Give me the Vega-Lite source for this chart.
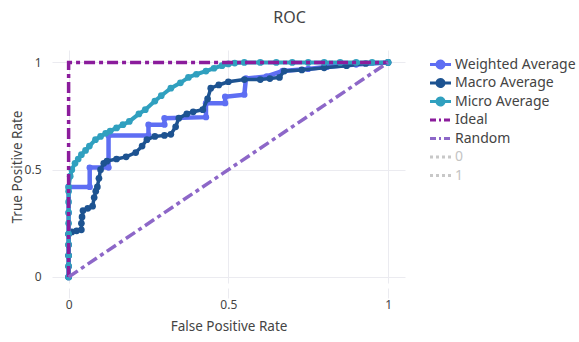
{
  "$schema": "https://vega.github.io/schema/vega-lite/v6.json",
  "width": 353,
  "height": 233,
  "autosize": {"type": "none"},
  "padding": {"left": 52, "top": 50, "right": 174, "bottom": 59},
  "background": "white",
  "title": {"text": "ROC", "fontSize": 16, "font": "Noto Sans", "fontWeight": "normal", "color": "#444", "anchor": "middle", "dx": 61, "offset": 16, "baseline": "middle"},
  "config": {
    "view": {"stroke": null},
    "font": "Noto Sans",
    "axis": {"labelFont": "Noto Sans", "titleFont": "Noto Sans", "labelColor": "#444", "titleColor": "#444", "labelFontSize": 12, "titleFontSize": 13.5, "titleFontWeight": "normal", "gridColor": "#ebebf0", "gridWidth": 1, "domain": false}
  },
  "datasets": {
    "roc": [
      {"series": "Weighted Average", "fpr": 0, "tpr": 0},
      {"series": "Weighted Average", "fpr": 0, "tpr": 0.1},
      {"series": "Weighted Average", "fpr": 0, "tpr": 0.2},
      {"series": "Weighted Average", "fpr": 0, "tpr": 0.3},
      {"series": "Weighted Average", "fpr": 0, "tpr": 0.42},
      {"series": "Weighted Average", "fpr": 0.066, "tpr": 0.42},
      {"series": "Weighted Average", "fpr": 0.066, "tpr": 0.51},
      {"series": "Weighted Average", "fpr": 0.125, "tpr": 0.51},
      {"series": "Weighted Average", "fpr": 0.125, "tpr": 0.66},
      {"series": "Weighted Average", "fpr": 0.25, "tpr": 0.66},
      {"series": "Weighted Average", "fpr": 0.25, "tpr": 0.71},
      {"series": "Weighted Average", "fpr": 0.3, "tpr": 0.71},
      {"series": "Weighted Average", "fpr": 0.3, "tpr": 0.74},
      {"series": "Weighted Average", "fpr": 0.43, "tpr": 0.745},
      {"series": "Weighted Average", "fpr": 0.43, "tpr": 0.81},
      {"series": "Weighted Average", "fpr": 0.49, "tpr": 0.81},
      {"series": "Weighted Average", "fpr": 0.49, "tpr": 0.84},
      {"series": "Weighted Average", "fpr": 0.55, "tpr": 0.85},
      {"series": "Weighted Average", "fpr": 0.555, "tpr": 0.925},
      {"series": "Weighted Average", "fpr": 0.62, "tpr": 0.935},
      {"series": "Weighted Average", "fpr": 0.67, "tpr": 0.96},
      {"series": "Weighted Average", "fpr": 0.75, "tpr": 0.97},
      {"series": "Weighted Average", "fpr": 0.81, "tpr": 0.98},
      {"series": "Weighted Average", "fpr": 0.9, "tpr": 0.99},
      {"series": "Weighted Average", "fpr": 1, "tpr": 1},

      {"series": "Macro Average", "fpr": 0, "tpr": 0},
      {"series": "Macro Average", "fpr": 0, "tpr": 0.05},
      {"series": "Macro Average", "fpr": 0, "tpr": 0.1},
      {"series": "Macro Average", "fpr": 0, "tpr": 0.15},
      {"series": "Macro Average", "fpr": 0, "tpr": 0.2},
      {"series": "Macro Average", "fpr": 0.01, "tpr": 0.21},
      {"series": "Macro Average", "fpr": 0.025, "tpr": 0.215},
      {"series": "Macro Average", "fpr": 0.04, "tpr": 0.22},
      {"series": "Macro Average", "fpr": 0.04, "tpr": 0.25},
      {"series": "Macro Average", "fpr": 0.042, "tpr": 0.28},
      {"series": "Macro Average", "fpr": 0.045, "tpr": 0.31},
      {"series": "Macro Average", "fpr": 0.06, "tpr": 0.32},
      {"series": "Macro Average", "fpr": 0.075, "tpr": 0.33},
      {"series": "Macro Average", "fpr": 0.08, "tpr": 0.37},
      {"series": "Macro Average", "fpr": 0.085, "tpr": 0.4},
      {"series": "Macro Average", "fpr": 0.09, "tpr": 0.42},
      {"series": "Macro Average", "fpr": 0.095, "tpr": 0.46},
      {"series": "Macro Average", "fpr": 0.1, "tpr": 0.5},
      {"series": "Macro Average", "fpr": 0.11, "tpr": 0.53},
      {"series": "Macro Average", "fpr": 0.12, "tpr": 0.54},
      {"series": "Macro Average", "fpr": 0.15, "tpr": 0.55},
      {"series": "Macro Average", "fpr": 0.18, "tpr": 0.56},
      {"series": "Macro Average", "fpr": 0.21, "tpr": 0.58},
      {"series": "Macro Average", "fpr": 0.23, "tpr": 0.61},
      {"series": "Macro Average", "fpr": 0.245, "tpr": 0.64},
      {"series": "Macro Average", "fpr": 0.27, "tpr": 0.655},
      {"series": "Macro Average", "fpr": 0.3, "tpr": 0.66},
      {"series": "Macro Average", "fpr": 0.32, "tpr": 0.665},
      {"series": "Macro Average", "fpr": 0.335, "tpr": 0.7},
      {"series": "Macro Average", "fpr": 0.345, "tpr": 0.74},
      {"series": "Macro Average", "fpr": 0.37, "tpr": 0.76},
      {"series": "Macro Average", "fpr": 0.39, "tpr": 0.77},
      {"series": "Macro Average", "fpr": 0.42, "tpr": 0.78},
      {"series": "Macro Average", "fpr": 0.435, "tpr": 0.83},
      {"series": "Macro Average", "fpr": 0.445, "tpr": 0.88},
      {"series": "Macro Average", "fpr": 0.47, "tpr": 0.895},
      {"series": "Macro Average", "fpr": 0.5, "tpr": 0.91},
      {"series": "Macro Average", "fpr": 0.55, "tpr": 0.92},
      {"series": "Macro Average", "fpr": 0.6, "tpr": 0.92},
      {"series": "Macro Average", "fpr": 0.63, "tpr": 0.925},
      {"series": "Macro Average", "fpr": 0.66, "tpr": 0.93},
      {"series": "Macro Average", "fpr": 0.675, "tpr": 0.96},
      {"series": "Macro Average", "fpr": 0.73, "tpr": 0.965},
      {"series": "Macro Average", "fpr": 0.8, "tpr": 0.975},
      {"series": "Macro Average", "fpr": 0.87, "tpr": 0.985},
      {"series": "Macro Average", "fpr": 0.93, "tpr": 0.995},
      {"series": "Macro Average", "fpr": 1, "tpr": 1},

      {"series": "Micro Average", "fpr": 0, "tpr": 0},
      {"series": "Micro Average", "fpr": 0, "tpr": 0.05},
      {"series": "Micro Average", "fpr": 0, "tpr": 0.1},
      {"series": "Micro Average", "fpr": 0, "tpr": 0.15},
      {"series": "Micro Average", "fpr": 0, "tpr": 0.2},
      {"series": "Micro Average", "fpr": 0, "tpr": 0.25},
      {"series": "Micro Average", "fpr": 0, "tpr": 0.3},
      {"series": "Micro Average", "fpr": 0, "tpr": 0.35},
      {"series": "Micro Average", "fpr": 0, "tpr": 0.4},
      {"series": "Micro Average", "fpr": 0, "tpr": 0.42},
      {"series": "Micro Average", "fpr": 0.005, "tpr": 0.47},
      {"series": "Micro Average", "fpr": 0.01, "tpr": 0.5},
      {"series": "Micro Average", "fpr": 0.02, "tpr": 0.53},
      {"series": "Micro Average", "fpr": 0.03, "tpr": 0.55},
      {"series": "Micro Average", "fpr": 0.04, "tpr": 0.57},
      {"series": "Micro Average", "fpr": 0.053, "tpr": 0.59},
      {"series": "Micro Average", "fpr": 0.065, "tpr": 0.61},
      {"series": "Micro Average", "fpr": 0.084, "tpr": 0.64},
      {"series": "Micro Average", "fpr": 0.1, "tpr": 0.655},
      {"series": "Micro Average", "fpr": 0.116, "tpr": 0.67},
      {"series": "Micro Average", "fpr": 0.13, "tpr": 0.68},
      {"series": "Micro Average", "fpr": 0.15, "tpr": 0.695},
      {"series": "Micro Average", "fpr": 0.17, "tpr": 0.71},
      {"series": "Micro Average", "fpr": 0.19, "tpr": 0.725},
      {"series": "Micro Average", "fpr": 0.22, "tpr": 0.76},
      {"series": "Micro Average", "fpr": 0.24, "tpr": 0.78},
      {"series": "Micro Average", "fpr": 0.27, "tpr": 0.82},
      {"series": "Micro Average", "fpr": 0.29, "tpr": 0.845},
      {"series": "Micro Average", "fpr": 0.32, "tpr": 0.88},
      {"series": "Micro Average", "fpr": 0.35, "tpr": 0.905},
      {"series": "Micro Average", "fpr": 0.375, "tpr": 0.93},
      {"series": "Micro Average", "fpr": 0.4, "tpr": 0.945},
      {"series": "Micro Average", "fpr": 0.43, "tpr": 0.96},
      {"series": "Micro Average", "fpr": 0.455, "tpr": 0.973},
      {"series": "Micro Average", "fpr": 0.48, "tpr": 0.985},
      {"series": "Micro Average", "fpr": 0.5, "tpr": 0.993},
      {"series": "Micro Average", "fpr": 0.52, "tpr": 0.997},
      {"series": "Micro Average", "fpr": 0.55, "tpr": 1},
      {"series": "Micro Average", "fpr": 0.6, "tpr": 1},
      {"series": "Micro Average", "fpr": 0.65, "tpr": 1},
      {"series": "Micro Average", "fpr": 0.7, "tpr": 1},
      {"series": "Micro Average", "fpr": 0.75, "tpr": 1},
      {"series": "Micro Average", "fpr": 0.8, "tpr": 1},
      {"series": "Micro Average", "fpr": 0.85, "tpr": 1},
      {"series": "Micro Average", "fpr": 0.9, "tpr": 1},
      {"series": "Micro Average", "fpr": 0.95, "tpr": 1},
      {"series": "Micro Average", "fpr": 1, "tpr": 1},

      {"series": "Ideal", "fpr": 0, "tpr": 0},
      {"series": "Ideal", "fpr": 0, "tpr": 1},
      {"series": "Ideal", "fpr": 1, "tpr": 1},

      {"series": "Random", "fpr": 0, "tpr": 0},
      {"series": "Random", "fpr": 1, "tpr": 1}
    ]
  },
  "data": {"name": "roc"},
  "encoding": {
    "x": {"field": "fpr", "type": "quantitative", "scale": {"domain": [-0.052, 1.053], "nice": false, "zero": false},
      "axis": {"title": "False Positive Rate", "values": [0, 0.5, 1], "format": "~g", "grid": true, "ticks": true, "tickColor": "#ebebf0", "tickSize": 10, "offset": 5, "labelPadding": 1, "titlePadding": 9}},
    "y": {"field": "tpr", "type": "quantitative", "scale": {"domain": [-0.028, 1.058], "nice": false, "zero": false},
      "axis": {"title": "True Positive Rate", "values": [0, 0.5, 1], "format": "~g", "grid": true, "ticks": false, "labelPadding": 11, "titlePadding": 0}},
    "color": {"field": "series", "type": "nominal",
      "scale": {"domain": ["Weighted Average", "Macro Average", "Micro Average", "Ideal", "Random", "0", "1"],
                "range": ["#5e6ef3", "#1d5391", "#30a0bf", "#8b1c9c", "#8d67c8", "#c8c8c8", "#c8c8c8"]},
      "legend": {
        "orient": "none", "legendX": 380, "legendY": 6, "title": null, "padding": 0,
        "symbolSize": 196, "symbolStrokeWidth": 3, "labelFont": "Noto Sans", "labelFontSize": 14, "labelColor": "#444",
        "labelOffset": 6, "rowPadding": -0.5, "gridAlign": "all",
        "encode": {
          "symbols": {"update": {
            "shape": {"signal": "indexof(['Weighted Average','Macro Average','Micro Average'], datum.value) >= 0 ? 'M-1.5,0H1.5M-0.5,0A0.5,0.5 0 1,0 0.5,0A0.5,0.5 0 1,0 -0.5,0Z' : 'M-1.5,0H1.5'"},
            "stroke": {"signal": "scale('color', datum.value)"},
            "fill": {"signal": "indexof(['Weighted Average','Macro Average','Micro Average'], datum.value) >= 0 ? scale('color', datum.value) : 'transparent'"},
            "strokeDash": {"signal": "datum.value === 'Ideal' || datum.value === 'Random' ? [6,3,2,3] : (datum.value === '0' || datum.value === '1' ? [3,3] : [1,0])"},
            "strokeWidth": {"value": 3},
            "opacity": {"value": 1}
          }},
          "labels": {"update": {"fill": {"signal": "datum.value === '0' || datum.value === '1' ? '#c4c4c4' : '#444'"}}}
        }
      }
    },
    "order": {"value": null}
  },
  "layer": [
    {"transform": [{"filter": "datum.series === 'Weighted Average'"}],
     "mark": {"type": "line", "strokeWidth": 4.5, "point": {"filled": true, "size": 40, "opacity": 1}}},
    {"transform": [{"filter": "datum.series === 'Macro Average'"}],
     "mark": {"type": "line", "strokeWidth": 3.5, "point": {"filled": true, "size": 45, "opacity": 1}}},
    {"transform": [{"filter": "datum.series === 'Micro Average'"}],
     "mark": {"type": "line", "strokeWidth": 4, "point": {"filled": true, "size": 45, "opacity": 1}}},
    {"transform": [{"filter": "datum.series === 'Ideal'"}],
     "mark": {"type": "line", "strokeWidth": 3.5, "strokeDash": [11, 4, 4, 4]}},
    {"transform": [{"filter": "datum.series === 'Random'"}],
     "mark": {"type": "line", "strokeWidth": 3.5, "strokeDash": [11, 4, 4, 4]}}
  ]
}
